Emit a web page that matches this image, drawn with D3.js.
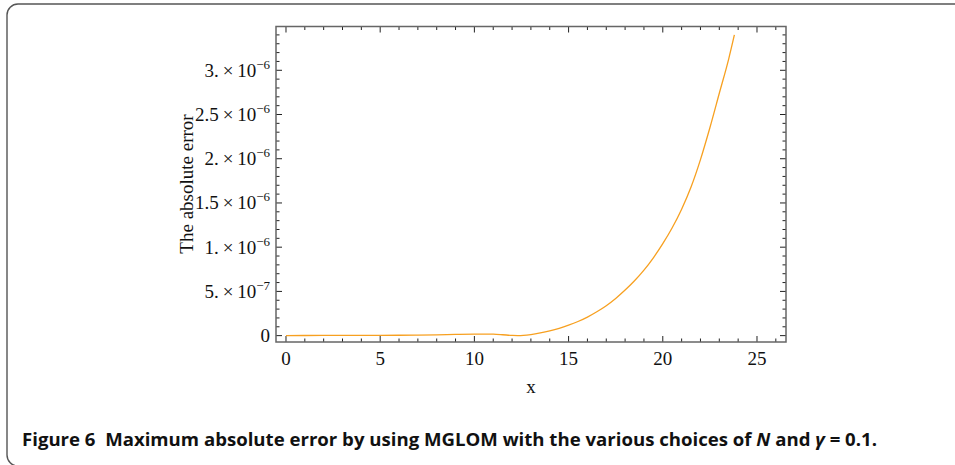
<!DOCTYPE html>
<html>
<head>
<meta charset="utf-8">
<script src="https://cdn.jsdelivr.net/npm/d3@7"></script>
<style>
  html, body { margin: 0; padding: 0; background: #fff; }
  svg { display: block; }
</style>
</head>
<body>
<svg id="chart" width="955" height="465"></svg>
<script>
// Sampled maximum absolute error against x
const xValues = [0, 1, 2, 3, 4, 5, 6, 7, 8, 9, 10, 10.5, 11, 11.5, 12, 12.3, 12.6, 13, 13.5, 14, 14.5, 15, 15.5, 16, 16.5, 17, 17.5, 18, 18.5, 19, 19.5, 20, 20.5, 21, 21.5, 22, 22.5, 23, 23.5, 23.8];
const errValues = [1.0e-9, 1.5e-9, 2.0e-9, 2.5e-9, 3.0e-9, 3.5e-9, 4.5e-9, 6.5e-9, 9.5e-9, 1.4e-8, 1.75e-8, 1.8e-8, 1.6e-8, 1.0e-8, 3.0e-9, 1.0e-9, 3.0e-9, 1.2e-8, 3.0e-8, 5.3e-8, 8.2e-8, 1.18e-7, 1.6e-7, 2.1e-7, 2.7e-7, 3.38e-7, 4.2e-7, 5.15e-7, 6.2e-7, 7.4e-7, 8.8e-7, 1.04e-6, 1.22e-6, 1.43e-6, 1.68e-6, 1.99e-6, 2.35e-6, 2.74e-6, 3.13e-6, 3.4e-6];

const xTicks = [0, 5, 10, 15, 20, 25];
const xMinorTicks = d3.range(0, 27, 1);
const yTicks = [0, 5e-7, 1e-6, 1.5e-6, 2e-6, 2.5e-6, 3e-6];
const yTickMantissa = ["0", "5.", "1.", "1.5", "2.", "2.5", "3."];
const yTickExponent = ["", "\u22127", "\u22126", "\u22126", "\u22126", "\u22126", "\u22126"];
const yMinorTicks = d3.range(0, 35).map(i => i * 1e-7);

const xLabel = "x";
const yLabel = "The absolute error";

const svg = d3.select("#chart");

// Outer panel with rounded corners
svg.append("rect")
  .attr("x", 7).attr("y", 4)
  .attr("width", 1000).attr("height", 462)
  .attr("rx", 11).attr("ry", 11)
  .attr("fill", "none")
  .attr("stroke", "#555")
  .attr("stroke-width", 1.4);

const plot = { left: 276, right: 786, top: 26.5, bottom: 342 };

const x = d3.scaleLinear().domain([-0.53, 26.54]).range([plot.left, plot.right]);
const y = d3.scaleLinear().domain([-0.072e-6, 3.495e-6]).range([plot.bottom, plot.top]);

const serif = "'Liberation Serif', 'Times New Roman', serif";
const fs = 19;

// Inward ticks on all four sides
const majorLen = 6, minorLen = 3.5;
const tickG = svg.append("g").attr("stroke", "#222").attr("stroke-width", 1);

function xTickLines(vals, len) {
  vals.forEach(v => {
    tickG.append("line").attr("x1", x(v)).attr("x2", x(v))
      .attr("y1", plot.bottom).attr("y2", plot.bottom - len);
    tickG.append("line").attr("x1", x(v)).attr("x2", x(v))
      .attr("y1", plot.top).attr("y2", plot.top + len);
  });
}
function yTickLines(vals, len) {
  vals.forEach(v => {
    tickG.append("line").attr("y1", y(v)).attr("y2", y(v))
      .attr("x1", plot.left).attr("x2", plot.left + len);
    tickG.append("line").attr("y1", y(v)).attr("y2", y(v))
      .attr("x1", plot.right).attr("x2", plot.right - len);
  });
}
xTickLines(xMinorTicks.filter(v => v % 5 !== 0), minorLen);
xTickLines(xTicks, majorLen);
yTickLines(yMinorTicks.filter((v, i) => i % 5 !== 0), minorLen);
yTickLines(yTicks, majorLen);

// Frame
svg.append("rect")
  .attr("x", plot.left).attr("y", plot.top)
  .attr("width", plot.right - plot.left).attr("height", plot.bottom - plot.top)
  .attr("fill", "none")
  .attr("stroke", "#666")
  .attr("stroke-width", 1.5);

// X tick labels
svg.append("g").selectAll("text").data(xTicks).join("text")
  .attr("x", d => x(d))
  .attr("y", 365)
  .attr("text-anchor", "middle")
  .attr("font-family", serif)
  .attr("font-size", fs)
  .attr("fill", "#111")
  .text(d => d);

// Y tick labels, written as mantissa × 10^exponent
const yl = svg.append("g");
yTicks.forEach((v, i) => {
  const t = yl.append("text")
    .attr("x", 270)
    .attr("y", y(v) + 6.5)
    .attr("text-anchor", "end")
    .attr("font-family", serif)
    .attr("font-size", fs)
    .attr("fill", "#111");
  if (yTickExponent[i] === "") {
    t.text(yTickMantissa[i]);
  } else {
    t.append("tspan").text(yTickMantissa[i] + "\u2009\u00d7\u200910");
    t.append("tspan").attr("font-size", 13).attr("dy", -8).text(yTickExponent[i]);
  }
});

// Axis titles
svg.append("text")
  .attr("x", x(13))
  .attr("y", 393)
  .attr("text-anchor", "middle")
  .attr("font-family", serif)
  .attr("font-size", fs)
  .attr("fill", "#111")
  .text(xLabel);

svg.append("text")
  .attr("transform", "translate(193,184) rotate(-90)")
  .attr("text-anchor", "middle")
  .attr("font-family", serif)
  .attr("font-size", fs)
  .attr("fill", "#111")
  .text(yLabel);

// Error curve
const pts = xValues.map((d, i) => [d, errValues[i]]);
const line = d3.line()
  .x(d => x(d[0]))
  .y(d => y(d[1]))
  .curve(d3.curveMonotoneX);

svg.append("path")
  .datum(pts)
  .attr("d", line)
  .attr("fill", "none")
  .attr("stroke", "#f7a020")
  .attr("stroke-width", 1.3);

// Caption
const cap = svg.append("text")
  .attr("x", 22)
  .attr("y", 446)
  .attr("font-family", "'Open Sans', 'Noto Sans', sans-serif")
  .attr("font-weight", "bold")
  .attr("font-size", 18.5)
  .attr("fill", "#111")
  .attr("textLength", 855)
  .attr("lengthAdjust", "spacingAndGlyphs");
cap.append("tspan").text("Figure 6\u00a0 Maximum absolute error by using MGLOM with the various choices of ");
cap.append("tspan").attr("font-style", "italic").text("N");
cap.append("tspan").text(" and ");
cap.append("tspan").attr("font-style", "italic").text("\u03b3");
cap.append("tspan").text(" = 0.1.");
</script>
</body>
</html>
